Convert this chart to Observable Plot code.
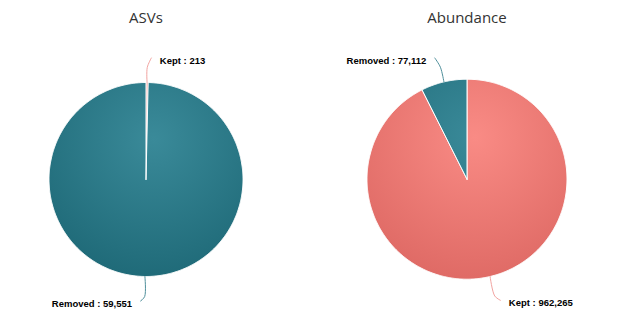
<!DOCTYPE html>
<html><head><meta charset="utf-8">
<script src="https://cdn.jsdelivr.net/npm/d3@7"></script>
<script src="https://cdn.jsdelivr.net/npm/@observablehq/plot@0.6"></script>
<style>body{margin:0;background:#fff}</style>
</head><body><div id="chart"></div>
<script>
const chartTitles = ["ASVs", "Abundance"];
const categories = ["Kept", "Removed"];
const asvValues = [213, 59551];
const abundanceValues = [962265, 77112];

const gradStops = {Kept: ["#f98b85", "#df6a65"], Removed: ["#3a8a99", "#1f6a78"]};
const lineColors = {Kept: "#f2a3a0", Removed: "#4f8f9b"};
const layout = [{cx: 145.5, cy: 179, r: 97}, {cx: 466.5, cy: 178.7, r: 100}];
const fmt = d3.format(",");

const wedges = [], connectors = [], labels = [], titles = [];
[asvValues, abundanceValues].forEach((vals, p) => {
  const {cx, cy, r} = layout[p];
  titles.push({text: chartTitles[p], x: cx, y: 18});
  const arcs = d3.pie().sort(null).value(d => d)(vals);
  arcs.forEach((a, i) => {
    const cat = categories[i];
    const key = p + "-" + i;
    const n = Math.max(2, Math.ceil((a.endAngle - a.startAngle) / 0.01));
    wedges.push({key, pie: p, cat, x: cx, y: cy});
    for (let k = 0; k <= n; k++) {
      const t = a.startAngle + (a.endAngle - a.startAngle) * k / n;
      wedges.push({key, pie: p, cat, x: cx + r * Math.sin(t), y: cy - r * Math.cos(t)});
    }
    wedges.push({key, pie: p, cat, x: cx, y: cy});
    const m = (a.startAngle + a.endAngle) / 2;
    const s = Math.sin(m), c = Math.cos(m);
    const top = c > 0;
    const d = top ? 22 : 27;
    const side = s >= 0 ? 1 : -1;
    const px = cx + (r + d) * s, py = cy - (r + d) * c;
    const lx = px + side * 12.5;
    connectors.push({key, cat, x: cx + r * s, y: cy - r * c});
    connectors.push({key, cat, x: cx + (r + d - 7) * s, y: cy - (r + d - 7) * c});
    connectors.push({key, cat, x: px + side * 4, y: py - 2.5});
    labels.push({text: cat + " : " + fmt(vals[i]), x: lx, y: py, side});
  });
});

const keys = Array.from(new Set(wedges.map(d => d.key)));
const marks = [];
for (const key of keys) {
  const rows = wedges.filter(d => d.key === key);
  const w = rows[0];
  marks.push(Plot.line(rows, {x: "x", y: "y", fill: `url(#g${w.pie}${w.cat})`, stroke: "#ffffff", strokeWidth: 1, strokeLinejoin: "round"}));
}
for (const key of keys) {
  const rows = connectors.filter(d => d.key === key);
  marks.push(Plot.line(rows, {x: "x", y: "y", stroke: lineColors[rows[0].cat], strokeWidth: 1, curve: "catmull-rom"}));
}
const labelFont = {fontWeight: "bold", fontSize: 9.5, fill: "#000", fontFamily: "Liberation Sans, Arial, sans-serif"};
marks.push(Plot.text(labels.filter(d => d.side > 0), {x: "x", y: "y", text: "text", textAnchor: "start", ...labelFont}));
marks.push(Plot.text(labels.filter(d => d.side < 0), {x: "x", y: "y", text: "text", textAnchor: "end", ...labelFont}));
marks.push(Plot.text(titles, {x: "x", y: "y", text: "text", fontSize: 15, fill: "#333333", fontFamily: "Open Sans, sans-serif"}));

const svg = Plot.plot({
  width: 619, height: 325, margin: 0,
  x: {domain: [0, 619], range: [0, 619], axis: null},
  y: {domain: [0, 325], range: [0, 325], axis: null},
  marks
});
const defs = d3.select(svg).insert("defs", ":first-child");
layout.forEach(({cx, cy, r}, p) => {
  categories.forEach(cat => {
    const g = defs.append("radialGradient").attr("id", `g${p}${cat}`)
      .attr("gradientUnits", "userSpaceOnUse")
      .attr("cx", cx + 0.08 * r).attr("cy", cy - 0.42 * r).attr("r", 1.45 * r);
    g.append("stop").attr("offset", 0).attr("stop-color", gradStops[cat][0]);
    g.append("stop").attr("offset", 1).attr("stop-color", gradStops[cat][1]);
  });
});
document.getElementById("chart").appendChild(svg);
</script>
</body></html>
